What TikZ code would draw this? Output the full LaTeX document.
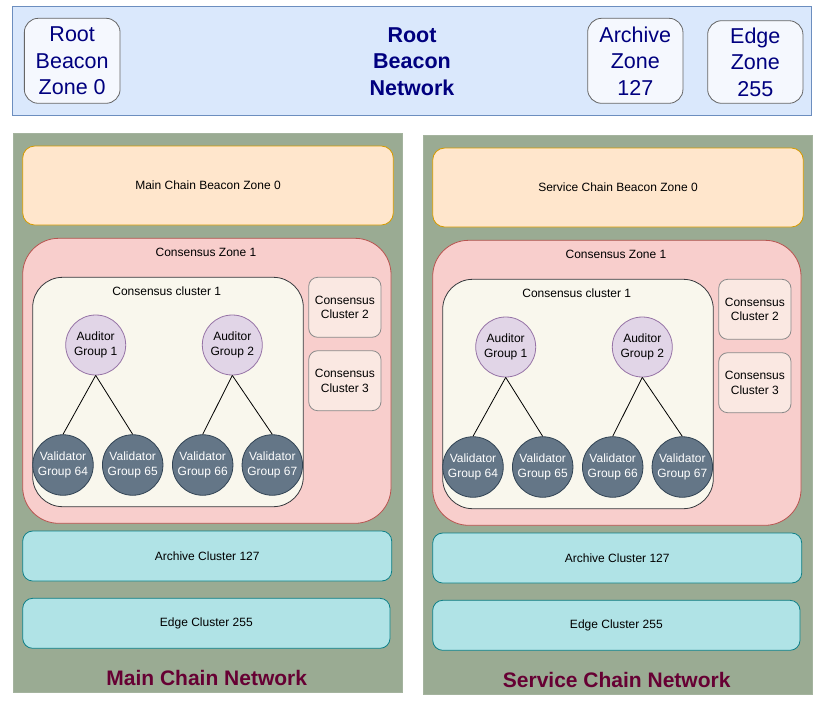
\documentclass[tikz,border=0pt]{standalone}
\usepackage{fontspec}
\setmainfont{Liberation Sans}
\definecolor{bannerfill}{HTML}{DAE8FC}
\definecolor{bannerdraw}{HTML}{6C8EBF}
\definecolor{topboxfill}{HTML}{F5F8FE}
\definecolor{navytext}{HTML}{00007F}
\definecolor{panelfill}{HTML}{9AAB93}
\definecolor{beaconfill}{HTML}{FFE6CC}
\definecolor{beacondraw}{HTML}{D79B00}
\definecolor{zonefill}{HTML}{F8CECC}
\definecolor{zonedraw}{HTML}{B85450}
\definecolor{clusterfill}{HTML}{F9F7ED}
\definecolor{clusterdraw}{HTML}{36393D}
\definecolor{smallclfill}{HTML}{FAE8E2}
\definecolor{smallcldraw}{HTML}{8A8A8A}
\definecolor{audfill}{HTML}{E1D5E7}
\definecolor{auddraw}{HTML}{9673A6}
\definecolor{valfill}{HTML}{647687}
\definecolor{valdraw}{HTML}{314354}
\definecolor{cyanfill}{HTML}{B0E3E6}
\definecolor{cyandraw}{HTML}{0E8088}
\definecolor{titlered}{HTML}{660033}
\tikzset{
  txt/.style={font=\fontsize{12}{14.5}\selectfont, align=center, inner sep=0pt},
  bigtxt/.style={font=\fontsize{21.5}{26.5}\selectfont, align=center, inner sep=0pt, text=navytext},
  banner/.style={draw=bannerdraw, fill=bannerfill, line width=0.8pt, inner sep=0pt},
  topbox/.style={bigtxt, draw=black!60, fill=topboxfill, rounded corners=14pt, line width=0.8pt},
  panelbg/.style={fill=panelfill, draw=panelfill!90!white, inner sep=0pt},
  beaconbox/.style={txt, draw=beacondraw, fill=beaconfill, rounded corners=12pt, line width=0.8pt},
  zonebox/.style={draw=zonedraw, fill=zonefill, rounded corners=36pt, line width=0.8pt, inner sep=0pt},
  clusterbox/.style={draw=clusterdraw, fill=clusterfill, rounded corners=30pt, line width=0.8pt, inner sep=0pt},
  smallcl/.style={txt, draw=smallcldraw, fill=smallclfill, rounded corners=9pt, line width=0.8pt, minimum width=72.3pt, minimum height=60pt},
  auditor/.style={txt, circle, draw=auddraw, fill=audfill, line width=0.8pt, minimum size=60pt},
  validator/.style={txt, circle, draw=valdraw, fill=valfill, text=white, line width=0.8pt, minimum size=60.5pt},
  cyanbox/.style={txt, draw=cyandraw, fill=cyanfill, rounded corners=10pt, line width=0.8pt},
  nettitle/.style={font=\bfseries\fontsize{21}{25}\selectfont, text=titlered, inner sep=0pt},
  link/.style={draw=black, line width=0.8pt}
}
\newcommand\chainpanel[5]{%
\begin{scope}[shift={(#2,#3)}, name prefix=#1-]
  \node[panelbg, minimum width=389pt, minimum height=559.3pt] (panel) at (207.2,412.35) {};
  \node[beaconbox, minimum width=370.6pt, minimum height=79pt] (beacon) at (208,185.5) {#4};
  \node[zonebox, minimum width=368.3pt, minimum height=285pt] (zone) at (206.85,380.8) {};
  \node[txt] (zonetitle) at (206,252.3) {Consensus Zone 1};
  \node[clusterbox, minimum width=270.6pt, minimum height=229.4pt] (cl1) at (168,392) {};
  \node[txt] (cl1title) at (166.7,291.7) {Consensus cluster 1};
  \node[smallcl] (cl2) at (344.85,307.3) {Consensus\\Cluster 2};
  \node[smallcl] (cl3) at (344.85,380.7) {Consensus\\Cluster 3};
  \node[auditor] (a1) at (95.7,345) {Auditor\\Group 1};
  \node[auditor] (a2) at (232.3,345) {Auditor\\Group 2};
  \node[validator] (v64) at (63,465) {Validator\\Group 64};
  \node[validator] (v65) at (132.7,465) {Validator\\Group 65};
  \node[validator] (v66) at (202.7,465) {Validator\\Group 66};
  \node[validator] (v67) at (272.3,465) {Validator\\Group 67};
  \draw[link] (a1.south) -- (v64.north);
  \draw[link] (a1.south) -- (v65.north);
  \draw[link] (a2.south) -- (v66.north);
  \draw[link] (a2.south) -- (v67.north);
  \node[cyanbox, minimum width=369pt, minimum height=50pt] (archive) at (207.2,556) {Archive Cluster 127};
  \node[cyanbox, minimum width=367.3pt, minimum height=50pt] (edge) at (206.35,623.3) {Edge Cluster 255};
  \node[nettitle] (title) at (206.7,677.5) {#5};
\end{scope}}
\begin{document}
\begin{tikzpicture}[x=1pt,y=-1pt]
\useasboundingbox (0,0) rectangle (824,701);
\fill[white] (0,0) rectangle (824,701);
\node[banner, minimum width=798.3pt, minimum height=109.7pt] (banner) at (411.85,60.85) {};
\node[bigtxt, font=\bfseries\fontsize{21.5}{26.5}\selectfont] (rbn) at (412,61.7) {Root\\Beacon\\Network};
\node[topbox, minimum width=95.7pt, minimum height=85pt] (rootzone) at (72.2,60.8) {Root\\Beacon\\Zone 0};
\node[topbox, minimum width=95.3pt, minimum height=85pt] (archzone) at (635.3,60.8) {Archive\\Zone\\127};
\node[topbox, minimum width=95.3pt, minimum height=82.6pt] (edgezone) at (755.3,62) {Edge\\Zone\\255};
\chainpanel{m}{0}{0}{Main Chain Beacon Zone 0}{Main Chain Network}
\chainpanel{s}{410}{2}{Service Chain Beacon Zone 0}{Service Chain Network}
\end{tikzpicture}
\end{document}
